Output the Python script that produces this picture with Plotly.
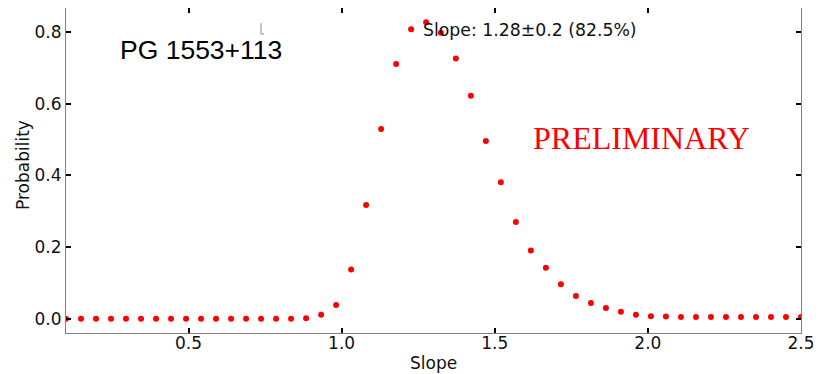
import plotly.graph_objects as go

slope = [0.100, 0.149, 0.198, 0.247, 0.296, 0.345, 0.394, 0.443, 0.492, 0.541,
         0.590, 0.639, 0.688, 0.737, 0.786, 0.835, 0.884, 0.933, 0.982, 1.031,
         1.080, 1.129, 1.178, 1.227, 1.276, 1.324, 1.373, 1.422, 1.471, 1.520,
         1.569, 1.618, 1.667, 1.716, 1.765, 1.814, 1.863, 1.912, 1.961, 2.010,
         2.059, 2.108, 2.157, 2.206, 2.255, 2.304, 2.353, 2.402, 2.451, 2.500]
probability = [0.000, 0.000, 0.000, 0.000, 0.000, 0.000, 0.000, 0.000, 0.000, 0.000,
               0.000, 0.000, 0.000, 0.000, 0.000, 0.000, 0.001, 0.011, 0.038, 0.137,
               0.317, 0.529, 0.711, 0.808, 0.827, 0.798, 0.726, 0.622, 0.496, 0.381,
               0.270, 0.190, 0.142, 0.096, 0.063, 0.044, 0.030, 0.019, 0.011, 0.007,
               0.006, 0.005, 0.005, 0.005, 0.005, 0.005, 0.005, 0.005, 0.005, 0.005]

x_ticks = [0.5, 1.0, 1.5, 2.0, 2.5]
x_tick_labels = ["0.5", "1.0", "1.5", "2.0", "2.5"]
y_ticks = [0.0, 0.2, 0.4, 0.6, 0.8]
y_tick_labels = ["0.0", "0.2", "0.4", "0.6", "0.8"]

# the page body adds an 8px offset; size the figure to fit the window
OFF = 8
W, H = 821 - OFF, 374 - OFF
# plot area in window pixels: x 66..801, y 8..333
L, R, T, B = 66 - OFF, W - (801 - OFF), 8 - OFF, H - (333 - OFF)
pw, ph = W - L - R, H - T - B


def px(x):
    # window pixel -> paper x
    return (x - OFF - L) / pw


def py(y):
    # window pixel -> paper y
    return (H - B - (y - OFF)) / ph


fig = go.Figure()
fig.add_trace(go.Scatter(
    x=slope, y=probability, mode="markers",
    marker=dict(color="#ff0000", size=6, line=dict(width=0)),
    cliponaxis=True, showlegend=False,
))

axis_common = dict(
    showline=True, linecolor="#808080", linewidth=1, mirror="ticks",
    ticks="inside", ticklen=5, tickwidth=2, tickcolor="black",
    showgrid=False, zeroline=False, automargin=False,
    tickfont=dict(family="DejaVu Sans", size=17, color="#111111"),
)

fig.update_layout(
    width=W, height=H, autosize=False,
    margin=dict(l=L, r=R, t=T, b=B, pad=0),
    paper_bgcolor="white", plot_bgcolor="white",
    font=dict(family="DejaVu Sans", color="#111111"),
    xaxis=dict(range=[0.1, 2.5], tickvals=x_ticks, ticktext=x_tick_labels,
               ticklabelstandoff=-5, **axis_common),
    yaxis=dict(range=[-0.04, 0.867], tickvals=y_ticks, ticktext=y_tick_labels, **axis_common),
    annotations=[
        dict(text="Slope", xref="paper", yref="paper", x=0.5, y=py(363),
             xanchor="center", yanchor="middle", showarrow=False,
             font=dict(family="DejaVu Sans", size=17, color="#111111")),
        dict(text="Probability", xref="paper", yref="paper", x=px(23), y=py(165),
             xanchor="center", yanchor="middle", showarrow=False, textangle=-90,
             font=dict(family="DejaVu Sans", size=17, color="#111111")),
        dict(text="PG 1553+113", xref="paper", yref="paper", x=px(118), y=py(50),
             xanchor="left", yanchor="middle", showarrow=False,
             font=dict(family="Liberation Sans", size=26.5, color="black")),
        dict(text="Slope: 1.28±0.2 (82.5%)", xref="paper", yref="paper", x=px(421), y=py(30),
             xanchor="left", yanchor="middle", showarrow=False,
             font=dict(family="DejaVu Sans", size=17.3, color="#111111")),
        dict(text="PRELIMINARY", xref="paper", yref="paper", x=px(531), y=py(138),
             xanchor="left", yanchor="middle", showarrow=False,
             font=dict(family="Liberation Serif", size=32, color="#ff0000")),
        dict(text="<b>S</b>", xref="paper", yref="paper", x=px(812), y=py(368),
             xanchor="left", yanchor="middle", showarrow=False,
             font=dict(family="DejaVu Sans", size=20, color="black")),
    ],
    shapes=[
        dict(type="line", xref="paper", yref="paper", x0=px(261), x1=px(261), y0=py(23), y1=py(34),
             line=dict(color="#888888", width=1)),
        dict(type="line", xref="paper", yref="paper", x0=px(261), x1=px(264), y0=py(34), y1=py(34),
             line=dict(color="#888888", width=1)),
    ],
)

fig.write_html("out.html")
